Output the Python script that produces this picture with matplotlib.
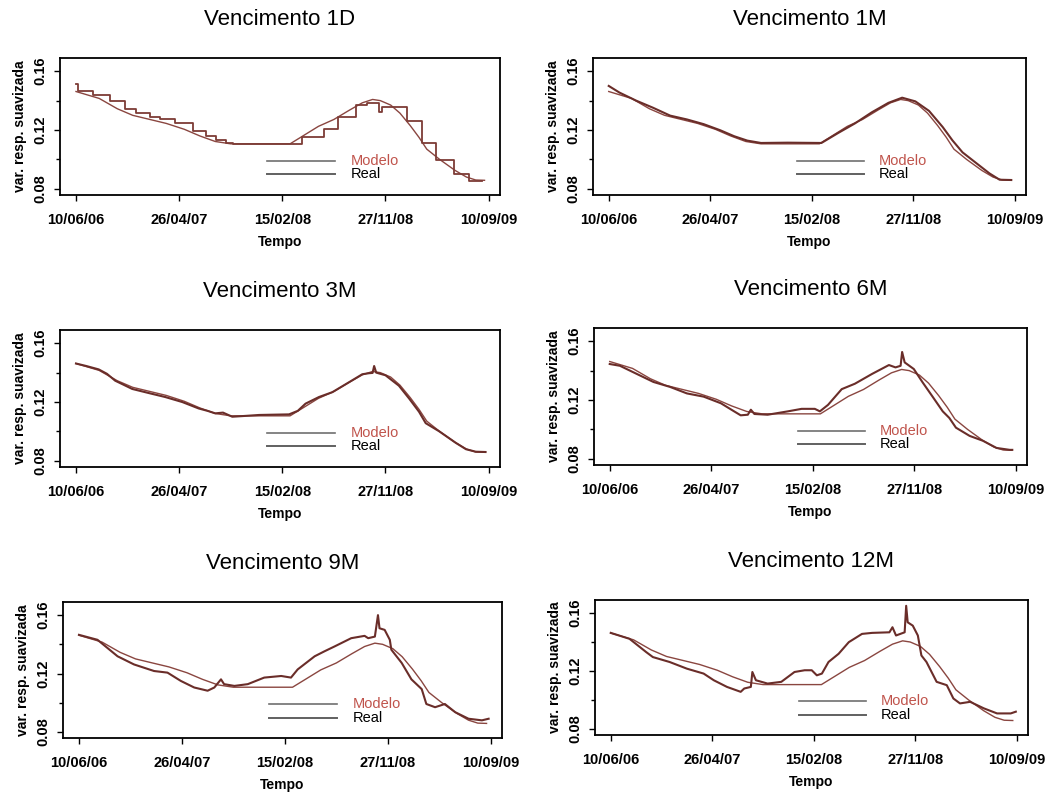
import matplotlib
matplotlib.use('Agg')
import matplotlib.pyplot as plt
from matplotlib.ticker import FixedLocator

plt.rcParams['font.family'] = ['Liberation Sans', 'DejaVu Sans']

# observation index of each labelled date on the time axis
tick_pos = [0, 200, 400, 600, 800]
tick_labels = ['10/06/06', '26/04/07', '15/02/08', '27/11/08', '10/09/09']

# model smoothed variance (same curve on every maturity)
model_idx = [0, 45, 80, 110, 175, 210, 240, 270, 300, 415, 440, 470, 500, 530, 555,
             575, 590, 610, 628, 648, 665, 680, 705, 735, 757, 775, 792]
model_val = [0.1462, 0.1415, 0.1345, 0.1300, 0.1245, 0.1205, 0.1160, 0.1122, 0.1106,
             0.1106, 0.1160, 0.1225, 0.1272, 0.1335, 0.1385, 0.1408, 0.1400, 0.1370,
             0.1315, 0.1230, 0.1150, 0.1070, 0.1000, 0.0925, 0.0880, 0.0860, 0.0858]

# realised smoothed variance, maturity 1D (piecewise constant)
real_1d_idx = [0, 3, 33, 66, 95, 117, 143, 162, 191, 227, 253, 272, 291, 305,
               439, 481, 507, 542, 565, 588, 594, 642, 671, 697, 732, 761, 787]
real_1d_val = [0.1511, 0.1466, 0.1440, 0.1395, 0.1345, 0.1315, 0.1290, 0.1275, 0.1245,
               0.1195, 0.1160, 0.1130, 0.1112, 0.1106, 0.1155, 0.1205, 0.1290, 0.1368,
               0.1385, 0.1325, 0.1358, 0.1263, 0.1110, 0.0995, 0.0899, 0.0852, 0.0852]

real_1m_idx = [0, 21, 54, 87, 121, 154, 187, 220, 247, 273, 300, 353, 419, 452, 485,
               518, 551, 578, 604, 631, 658, 677, 697, 724, 750, 770, 793]
real_1m_val = [0.1500, 0.1455, 0.1400, 0.1352, 0.1298, 0.1272, 0.1240, 0.1198, 0.1158,
               0.1128, 0.1112, 0.1114, 0.1112, 0.1180, 0.1245, 0.1320, 0.1385, 0.1420,
               0.1395, 0.1330, 0.1220, 0.1130, 0.1048, 0.0975, 0.0905, 0.0862, 0.0860]

real_3m_idx = [0, 20, 44, 60, 76, 92, 109, 140, 173, 206, 238, 255, 270, 285, 303, 330,
               355, 413, 430, 445, 471, 497, 529, 555, 568, 575, 578, 582, 600, 626,
               646, 665, 678, 704, 736, 756, 775, 794]
real_3m_val = [0.1462, 0.1445, 0.1422, 0.1392, 0.1345, 0.1318, 0.1289, 0.1262, 0.1234,
               0.1200, 0.1156, 0.1140, 0.1123, 0.1128, 0.1100, 0.1106, 0.1112, 0.1116,
               0.1140, 0.1189, 0.1234, 0.1267, 0.1334, 0.1389, 0.1396, 0.1398, 0.1445,
               0.1400, 0.1382, 0.1311, 0.1223, 0.1134, 0.1056, 0.1001, 0.0923, 0.0879,
               0.0862, 0.0860]

real_6m_idx = [0, 20, 53, 86, 119, 152, 185, 219, 245, 258, 272, 278, 285, 311, 351,
               378, 404, 414, 430, 457, 483, 517, 550, 563, 573, 576, 581, 599, 616,
               636, 656, 669, 682, 709, 735, 762, 788, 793]
real_6m_val = [0.1445, 0.1433, 0.1378, 0.1323, 0.1289, 0.1245, 0.1223, 0.1178, 0.1123,
               0.1096, 0.1100, 0.1134, 0.1105, 0.1100, 0.1123, 0.1140, 0.1140, 0.1123,
               0.1167, 0.1274, 0.1311, 0.1378, 0.1438, 0.1422, 0.1433, 0.1527, 0.1456,
               0.1411, 0.1322, 0.1223, 0.1123, 0.1078, 0.1012, 0.0956, 0.0923, 0.0874,
               0.0861, 0.0861]

real_9m_idx = [0, 36, 75, 107, 146, 172, 198, 224, 250, 263, 276, 282, 302, 328, 360,
               393, 412, 425, 458, 477, 497, 529, 555, 562, 575, 581, 584, 594, 604,
               607, 627, 646, 666, 675, 692, 711, 731, 757, 783, 796]
real_9m_val = [0.1465, 0.1431, 0.1318, 0.1262, 0.1217, 0.1206, 0.1149, 0.1104, 0.1082,
               0.1104, 0.1160, 0.1127, 0.1115, 0.1127, 0.1172, 0.1183, 0.1172, 0.1228,
               0.1318, 0.1352, 0.1386, 0.1442, 0.1458, 0.1442, 0.1453, 0.1600, 0.1510,
               0.1499, 0.1431, 0.1363, 0.1273, 0.1160, 0.1093, 0.0991, 0.0969, 0.0991,
               0.0935, 0.0890, 0.0879, 0.0890]

real_12m_idx = [0, 37, 70, 83, 116, 150, 183, 203, 229, 256, 263, 276, 279, 286, 309,
                336, 362, 382, 396, 406, 416, 429, 449, 469, 495, 515, 549, 555, 562,
                579, 582, 585, 595, 605, 612, 622, 642, 662, 675, 688, 708, 735, 761,
                788, 798]
real_12m_val = [0.1463, 0.1422, 0.1330, 0.1296, 0.1262, 0.1216, 0.1182, 0.1136, 0.1090,
                0.1056, 0.1079, 0.1090, 0.1193, 0.1136, 0.1113, 0.1125, 0.1193, 0.1205,
                0.1205, 0.1170, 0.1182, 0.1262, 0.1319, 0.1399, 0.1456, 0.1463, 0.1467,
                0.1502, 0.1445, 0.1467, 0.1650, 0.1536, 0.1513, 0.1445, 0.1307, 0.1262,
                0.1125, 0.1102, 0.1010, 0.0976, 0.0987, 0.0942, 0.0907, 0.0907, 0.0919]

titles = ['Vencimento 1D', 'Vencimento 1M', 'Vencimento 3M',
          'Vencimento 6M', 'Vencimento 9M', 'Vencimento 12M']
real_series = [(real_1d_idx, real_1d_val), (real_1m_idx, real_1m_val),
               (real_3m_idx, real_3m_val), (real_6m_idx, real_6m_val),
               (real_9m_idx, real_9m_val), (real_12m_idx, real_12m_val)]

# axes boxes in pixels: left, top, right, bottom
boxes = [(60, 58, 500, 195), (593, 58, 1026, 195),
         (60, 330, 500, 467), (594, 328, 1027, 465),
         (63, 602, 502, 738), (595, 600, 1028, 735)]

W, H = 1052, 798
model_color = '#8a4640'
real_color = '#6a2d29'

fig = plt.figure(figsize=(W / 100, H / 100), dpi=100)

for i, (title, (rx, ry), box) in enumerate(zip(titles, real_series, boxes)):
    l, t, r, b = box
    ax = fig.add_axes([l / W, 1 - b / H, (r - l) / W, (b - t) / H])

    ax.plot(model_idx, model_val, color=model_color, lw=1.0, zorder=2)
    if i == 0:
        ax.plot(rx, ry, color='#7d3c36', lw=1.3, drawstyle='steps-post', zorder=3)
    else:
        ax.plot(rx, ry, color=real_color, lw=1.5, zorder=3)

    ax.set_xlim(-31, 822)
    ax.set_ylim(0.0758, 0.169)
    ax.set_xticks(tick_pos)
    ax.set_xticklabels(tick_labels)
    ax.set_yticks([0.08, 0.12, 0.16])
    ax.set_yticklabels(['0.08', '0.12', '0.16'])
    ax.yaxis.set_minor_locator(FixedLocator([0.10, 0.14]))
    ax.tick_params(axis='both', which='major', direction='out', length=4, width=1,
                   labelsize=10.5)
    ax.tick_params(axis='x', pad=9)
    ax.tick_params(axis='y', pad=5)
    ax.tick_params(axis='y', which='minor', direction='out', length=3, width=1)
    for lbl in ax.get_xticklabels() + ax.get_yticklabels():
        lbl.set_fontweight('bold')
    plt.setp(ax.get_yticklabels(), rotation=90, va='center')
    for sp in ax.spines.values():
        sp.set_linewidth(1.3)

    ax.set_title(title, fontsize=16, pad=24)
    ax.set_xlabel('Tempo', fontsize=10, fontweight='bold', labelpad=6)
    ax.set_ylabel('var. resp. suavizada', fontsize=10, fontweight='bold', labelpad=5)

    # legend drawn by hand: grey sample lines with coloured labels
    ax.plot([0.47, 0.625], [0.25, 0.25], transform=ax.transAxes, color='#707070', lw=1.2)
    ax.plot([0.47, 0.625], [0.15, 0.15], transform=ax.transAxes, color='#606060', lw=1.4)
    ax.text(0.66, 0.25, 'Modelo', transform=ax.transAxes, color='#c0544c',
            fontsize=10.5, va='center', ha='left')
    ax.text(0.66, 0.15, 'Real', transform=ax.transAxes, color='black',
            fontsize=10.5, va='center', ha='left')

fig.savefig('out.png', dpi=100, facecolor='white')
